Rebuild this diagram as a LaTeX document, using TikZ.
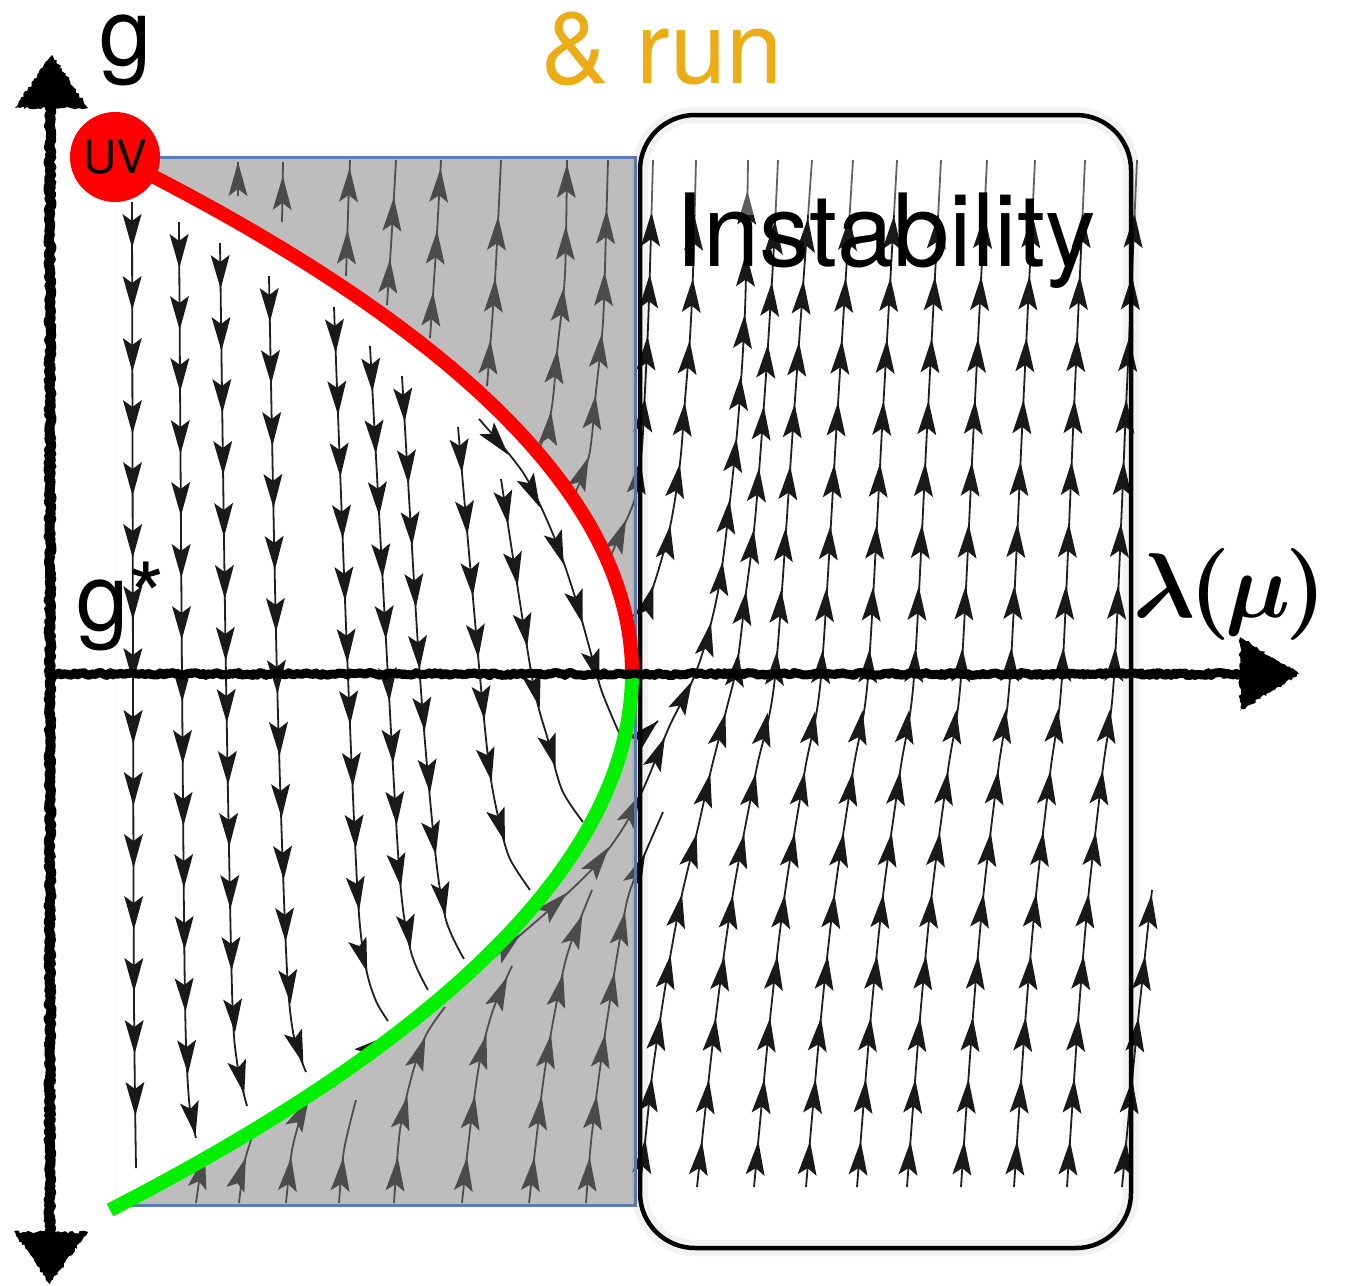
\documentclass[tikz,border=0pt]{standalone}
\usepackage{fontspec}
\usepackage{bm}
\usetikzlibrary{arrows.meta,decorations.markings,decorations.pathmorphing}
\newfontfamily\hv{TeX Gyre Heros}
\definecolor{runorange}{RGB}{236,172,22}
\definecolor{bordblue}{RGB}{92,126,180}
\definecolor{uvred}{RGB}{255,0,0}
\definecolor{irgreen}{RGB}{0,240,0}
\newcommand\headshape{\fill[black!90] (0pt,0pt) -- (-34pt,9.5pt) -- (-27pt,0pt) -- (-34pt,-9.5pt) -- cycle;}
\newcommand\stream[1]{%
  \draw[lnstyle] plot[smooth] coordinates {#1};
  \path[postaction={decorate}, decoration={markings, mark=between positions 46pt and 1 step 62pt with {\headshape}}] plot coordinates {#1};}
\newcommand\streamend[1]{%
  \draw[lnstyle] plot[smooth] coordinates {#1};
  \path[postaction={decorate}, decoration={markings, mark=at position 1 with {\headshape}}] plot coordinates {#1};}
\begin{document}
\pgfmathsetseed{7}
\begin{tikzpicture}[x=1pt,y=-1pt,
  lnstyle/.style={draw=black!88, line width=1.8pt},
  roughax/.style={decorate, line join=round, line cap=round, decoration={random steps, segment length=2.5pt, amplitude=1.5pt}},
  bigtext/.style={anchor=base west, inner sep=0pt, font=\hv\fontsize{94}{94}\selectfont},
]
\useasboundingbox (0,0) rectangle (1348,1285);
\fill[white] (0,0) rectangle (1348,1285);

% ---------- streamlines: white region (downward) ----------
\stream{(132,202) (133,675) (134,1000) (136,1168)}
\stream{(179,222) (182,677) (185,1000) (189,1100) (196,1138)}
\stream{(220,243) (226,677) (232,990) (237,1062) (247,1106)}
\stream{(269,276) (277,677) (286,950) (293,1032) (306,1072)}
\stream{(334,307) (348,677) (358,900) (366,968) (376,1001) (388,1021)}
\stream{(370,346) (388,677) (400,880) (411,952) (428,990)}
\stream{(402,376) (420,677) (435,850) (446,920) (464,959)}
\stream{(458,427) (480,677) (490,773) (500,825) (510,859) (530,890)}
\stream{(501,479) (532,677) (548,740) (562,790) (583,822)}
\stream{(479,419) (524,474) (555,539) (576,600) (590,650) (602,692) (620,735)}

% ---------- lower gray region (upward) ----------
\streamend{(196,1203) (200,1176) (205,1155)}
\stream{(239,1203) (245,1160) (257,1123)}
\stream{(286,1203) (292,1150) (303,1110) (312,1092)}
\stream{(339,1203) (344,1150) (356,1100)}
\streamend{(334,1087) (352,1063) (387,1036)}
\stream{(394,1203) (400,1130) (412,1075) (426,1035) (445,1007)}
\stream{(462,1203) (470,1130) (480,1060) (493,1010) (512,966)}
\stream{(529,1203) (536,1142) (544,1076) (555,1011) (568,952) (592,890)}
\stream{(586,1203) (591,1142) (599,1076) (608,1014) (617,956) (627,901) (638,870) (663,812)}
\stream{(486,964) (548,911) (595,866) (625,825) (645,785) (670,725) (694,677) (710,627) (722,567) (737,433) (745,310) (748,160)}
\streamend{(638,740) (658,721)}

% ---------- upper gray region (upward) ----------
\streamend{(238,196) (238,162)}
\stream{(282,222) (283,162)}
\stream{(346,276) (348,215) (350,160)}
\stream{(387,305) (392,230) (396,160)}
\stream{(430,338) (436,250) (441,160)}
\stream{(487,386) (495,280) (501,160)}
\stream{(537,455) (551,412) (558,343) (565,274) (567,160)}
\stream{(572,500) (589,456) (596,391) (603,322) (606,230) (608,160)}
\stream{(608,562) (622,530) (636,495) (642,447) (645,390) (648,327) (650,267) (653,160)}
\stream{(627,622) (640,608) (652,590) (670,527) (680,463) (685,400) (690,337) (693,273) (696,160)}

% ---------- right region (upward) ----------
\stream{(640,1185) (645,1142) (652,1076) (661,1014) (671,952) (682,894) (697,832) (711,770) (726,711) (737,665) (745,600) (755,520) (765,390) (773,263) (778,160)}
\stream{(697,1187) (715.7,1018) (732.9,894) (756.3,770) (775,677) (793.5,420) (812,160)}
\stream{(754,1187) (770.1,1018) (784.8,894) (804.9,770) (821,677) (837,420) (853,160)}
\stream{(806,1187) (820.9,1018) (834.5,894) (853.1,770) (868,677) (882.5,420) (897,160)}
\stream{(857,1187) (870.7,1018) (883.2,894) (900.3,770) (914,677) (927.5,420) (941,160)}
\stream{(907,1187) (920,1018) (931.8,894) (948,770) (961,677) (974,420) (987,160)}
\stream{(961,1187) (972.8,1018) (983.5,894) (998.2,770) (1010,677) (1022.5,420) (1035,160)}
\stream{(1014,1187) (1025.5,1018) (1036.1,894) (1050.5,770) (1062,677) (1073.5,420) (1085,160)}
\stream{(1067,1187) (1078.3,1018) (1088.6,894) (1102.7,770) (1114,677) (1125.5,420) (1137,160)}
\stream{(1122,1187) (1136,1040) (1152,890)}

% fade of the upper right streamlines
\fill[white, opacity=0.3] (642,145) rectangle (1145,215);

% ---------- gray region ----------
\begin{scope}
\clip (115,157) rectangle (635,1205);
\fill[black!51, fill opacity=0.5, even odd rule] (115,157) rectangle (635,1205)
  (115,157) .. controls (459.7,329) and (632,501) .. (632,673)
  .. controls (632,851.3) and (458,1031) .. (110,1210) -- (80,1210) -- (80,157) -- cycle;
\end{scope}
\draw[bordblue, line width=3pt] (115,157) -- (635,157) -- (635,1205) -- (120,1205);

% ---------- instability box ----------
\draw[black, opacity=0.05, line width=16pt, rounded corners=55pt] (640,115) rectangle (1131,1248);
\draw[black, line width=4.5pt, rounded corners=55pt] (640,115) rectangle (1131,1248);

% ---------- separatrices ----------
\draw[uvred, line width=14pt] (115,157) .. controls (459.7,329) and (632,501) .. (632,673);
\draw[irgreen, line width=14pt] (632,673) .. controls (632,851.3) and (458,1031) .. (110,1210);

% ---------- axes ----------
\draw[line width=10pt, roughax] (50,100) -- (50,1240);
\draw[line width=9pt, roughax] (50,674) -- (1245,674);
\fill[roughax] (52,55) -- (88,108) -- (15,108) -- cycle;
\fill[roughax] (50,1284) -- (88,1232) -- (14,1232) -- cycle;
\fill[roughax] (1299,674) -- (1240,637) -- (1240,711) -- cycle;

% ---------- labels ----------
\node[circle, fill=uvred, minimum size=90pt, inner sep=0pt, font=\hv\fontsize{46}{46}\selectfont] (uv) at (115,157) {UV};
\node[bigtext] (glab) at (99,65) {g};
\node[bigtext] (gstar) at (76,630) {g*};
\node[bigtext, text=runorange, font=\hv\fontsize{101}{101}\selectfont] (run) at (541,83) {\& run};
\node[bigtext, font=\hv\fontsize{101}{101}\selectfont] (inst) at (675,266) {Instability};
\node[anchor=base west, inner sep=0pt] (lam) at (1133,617) {\scalebox{9.2}{$\bm{\lambda\mkern-1mu(\mkern-1mu\mu\mkern-1mu)}$}};
\end{tikzpicture}
\end{document}
